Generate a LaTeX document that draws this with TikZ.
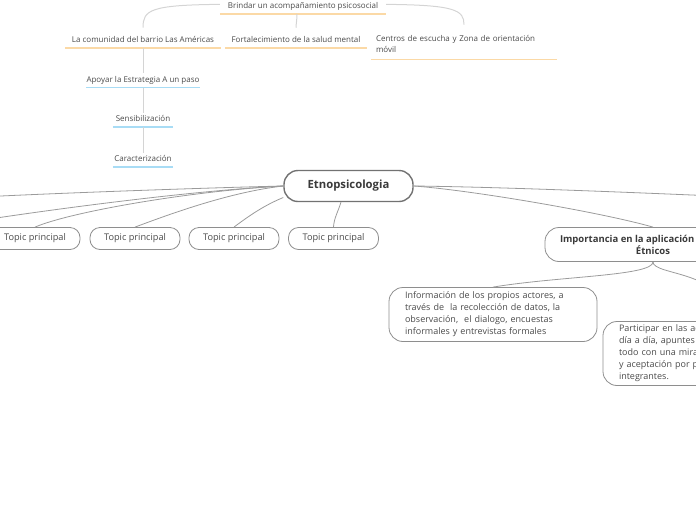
\documentclass[tikz,border=0pt]{standalone}
\usepackage{fontspec}
\setmainfont{Open Sans}
\definecolor{txt}{HTML}{4A4A4A}
\definecolor{darktxt}{HTML}{3A3A3A}
\definecolor{conn}{HTML}{9B9B9B}
\definecolor{lightconn}{HTML}{D4D4D4}
\definecolor{ulorange}{HTML}{FBD9A6}
\definecolor{ulblue}{HTML}{A8DCF5}
\definecolor{border}{HTML}{8E8E8E}
\tikzset{
  topicbox/.style={draw=border, line width=0.8pt, rounded corners=10pt, minimum width=90pt, minimum height=22pt, inner sep=0pt, font=\fontsize{9.2}{11}\selectfont, text=txt},
  centralbox/.style={draw=border!80!black, line width=1.4pt, rounded corners=14pt, minimum width=129pt, minimum height=31pt, inner sep=0pt, font=\fontsize{11.3}{13}\selectfont\bfseries, text=darktxt},
  impbox/.style={draw=border, line width=0.8pt, rounded corners=14pt, minimum width=216pt, minimum height=34pt, inner sep=0pt, align=center, font=\fontsize{9.5}{12}\selectfont\bfseries, text=darktxt},
  notebox/.style={draw=border, line width=0.8pt, rounded corners=14pt, inner xsep=16pt, inner ysep=0pt, align=left, font=\fontsize{9}{12}\selectfont, text=txt},
  lbl/.style={anchor=south, inner xsep=0pt, inner ysep=2.8pt, text depth=2.2pt, font=\fontsize{8}{11}\selectfont, text=txt},
  mainconn/.style={draw=conn, line width=0.8pt},
  topconn/.style={draw=lightconn, line width=1pt},
  ulo/.style={draw=ulorange, line width=1.2pt},
  ulb/.style={draw=ulblue, line width=1.2pt}
}
\begin{document}
\begin{tikzpicture}[x=1pt,y=-1pt]
\useasboundingbox (0,0) rectangle (696,520);
\clip (0,0) rectangle (696,520);

% main nodes
\node[centralbox] (c) at (348.5,186) {Etnopsicologia};
\node[topicbox] (t1) at (35,238.5) {Topic principal};
\node[topicbox] (t2) at (135,238.5) {Topic principal};
\node[topicbox] (t3) at (234,238.5) {Topic principal};
\node[topicbox] (t4) at (333.5,238.5) {Topic principal};
\coordinate (offA) at (-20,197);
\coordinate (offB) at (-30,222);
\coordinate (offC) at (716,196);
\node[impbox] (imp) at (653,244.5) {\makebox[186pt][l]{Importancia en la aplicación}\\Étnicos};
\node[notebox, minimum height=54pt, text width=176pt] (info) at (493,314.5)
  {Información de los propios actores, a\\través de\ \ la recolección de datos, la\\observación,\ \ el dialogo, encuestas\\informales y entrevistas formales};
\node[notebox, minimum height=64pt, text width=218pt] (part) at (728,353.5)
  {Participar en las ac\\día a día, apuntes\\todo con una mira\\y aceptación por p\\integrantes.};

% main connectors
\draw[mainconn] (c.west) .. controls (200,188) and (60,193) .. (offA);
\draw[mainconn] (c.west) .. controls (200,190) and (60,208) .. (offB);
\draw[mainconn] (c.west) .. controls (190,191) and (70,212) .. (t1.north);
\draw[mainconn] (c.west) .. controls (230,192) and (170,214) .. (t2.north);
\draw[mainconn] (c.190) .. controls (265,205) and (250,215) .. (t3.north);
\draw[mainconn] (c.245) .. controls (338,212) and (334,218) .. (t4.north);
\draw[mainconn] (c.east) .. controls (500,187) and (620,192) .. (offC);
\draw[mainconn] (c.east) .. controls (470,190) and (600,212) .. (imp.north);
\draw[mainconn] (imp.south) .. controls (653,276) and (560,276) .. (info.north);
\draw[mainconn] (imp.south) .. controls (653,276) and (728,270) .. (part.north);

% top branch
\node[lbl, minimum width=166pt] (brindar) at (303,14) {Brindar un acompañamiento psicosocial};
\node[lbl, minimum width=156pt] (comunidad) at (143,48) {La comunidad del barrio Las Américas};
\node[lbl, minimum width=142pt] (fortal) at (296,48) {Fortalecimiento de la salud mental};
\node[lbl, text width=176pt, inner xsep=5pt, inner ysep=4.5pt, text depth=13.2pt, align=left] (centros) at (464,59.3) {Centros de escucha y Zona de orientación\\móvil};
\node[lbl, minimum width=112pt] (apoyar) at (143,87.5) {Apoyar la Estrategia A un paso};
\node[lbl, minimum width=60pt] (sensib) at (143,127) {Sensibilización};
\node[lbl, minimum width=60pt] (caract) at (143,167) {Caracterización};

\foreach \n in {brindar,comunidad,fortal,centros}
  \draw[ulo] (\n.south west) -- (\n.south east);
\foreach \n in {apoyar,sensib,caract}
  \draw[ulb] (\n.south west) -- (\n.south east);

\draw[topconn, shorten >=6pt] ([yshift=2.5pt]brindar.west) .. controls (150,5) and (143,10) .. (comunidad.north);
\draw[topconn, shorten >=6pt] ([yshift=2.5pt]brindar.east) .. controls (455,5) and (464,10) .. (centros.north);
\draw[topconn, shorten >=6pt] ([xshift=-6pt]brindar.south) .. controls (297,20) and (296,24) .. (fortal.north);
\draw[topconn] (comunidad.south) -- (apoyar.north);
\draw[topconn] (apoyar.south) -- (sensib.north);
\draw[topconn] (sensib.south) -- (caract.north);
\end{tikzpicture}
\end{document}
